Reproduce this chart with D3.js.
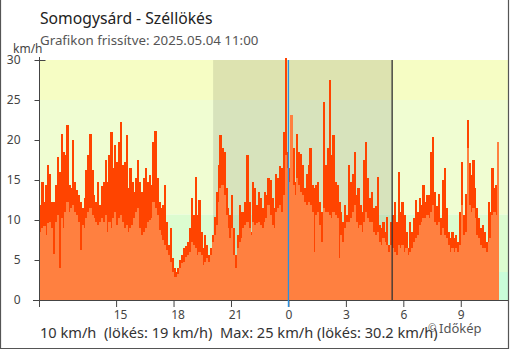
<!DOCTYPE html>
<html><head><meta charset="utf-8">
<script src="https://cdn.jsdelivr.net/npm/d3@7"></script>
<style>
html,body{margin:0;padding:0;background:#fff;}
svg{display:block;font-family:"Noto Sans",sans-serif;}
</style></head><body>
<svg id="chart" width="510" height="350"></svg>
<script>
const titleText = "Somogysárd - Széllökés";
const subtitleText = "Grafikon frissítve: 2025.05.04 11:00";
const summaryText = "10 km/h  (lökés: 19 km/h)  Max: 25 km/h (lökés: 30.2 km/h)";
const creditText = "Időkép";
const unitLabel = "km/h";

const startTime = "2025-05-03T11:00:00Z";
const endTime = "2025-05-04T11:28:00Z";
const stepMinutes = 6;
const sunsetTime = "2025-05-03T20:04:00Z";
const sunriseTime = "2025-05-04T05:25:00Z";
const midnightTime = "2025-05-04T00:00:00Z";

const gustKmh = [
11.9,14.8,12.3,14.4,16.9,15.8,12.3,12.3,14.4,17.9,
16,20.75,18.5,18.1,21.9,14.4,14,20,14.8,13.75,
13.1,12.3,11.5,12.7,16.25,18.1,20.8,16.25,13.1,12.3,
14.8,11.9,14.2,14.8,17.5,14.8,18.1,21,16.5,19.4,
17.3,19.8,22.3,16.9,17.3,20.6,14,16.5,14.8,13.5,
15.2,17.5,14.8,13.5,15.2,16.5,14.8,15.6,14.4,19.8,
21.1,15.2,12.3,11.5,11.9,14.4,9.8,6.9,9,5.2,
4,3.5,4,5,5.6,6.5,6.7,7.3,9,12.7,
10.6,15.4,10.6,12.5,8.5,6.5,8.1,6.9,5.6,6.5,
8.1,10.4,13.5,16.9,20.6,19,18.5,14,11.5,10.6,
13.1,9,5.6,8.1,11.9,11,11,12.3,18.1,12.3,
8.5,14.8,14,11.9,13.5,12.7,11.5,13.5,13.1,15.2,
15,12.7,11.5,15.8,15.2,16.7,16.5,21,30.2,18.5,
16.5,23.1,19,14.8,20.75,18.5,18.3,16.9,14,15.8,
16.9,19,14.4,14,14.4,14.8,12.3,11,24.8,16.9,
19,27.5,18.1,20.6,14.8,14.4,12.3,11,9.8,11.9,
10.6,16.9,
14.8,15.8,18.5,13.1,14,11.9,11,17.5,19.8,15.2,
12.7,13.5,11.5,11.7,15.4,9.4,9,9.8,8.5,10.4,
6.9,9.8,10.6,12.3,9.8,16,11,12.3,10.6,8.5,
6.5,9.8,8.5,10.2,12.5,11,12.7,11.9,14.4,12.3,
13.1,
13.1,18.5,20.4,13.5,11.7,13.3,10.2,15,16.5,11.5,
8.5,7.7,8.5,7.7,8.1,7.3,11,17.3,10.6,13.3,
22.5,17.1,15.6,17.5,14,11.5,10.2,9,9.4,8.5,
7.3,12.3,11,16.5,14,14.4,19.8
];
const avgKmh = [
8.5,9,9.2,8.1,9.6,9.8,9,5.8,9.8,10.6,
4,10.2,9,11,12.3,11,11.5,11.9,11,10.6,
9.8,6.25,9.4,9,10.2,11,11.5,10.6,10.2,9.8,
9.4,9.8,10.2,9.8,10.6,8.5,9.8,9,10.2,11,
9.4,10.2,10.6,9.8,9,9.4,8.5,9,9.4,10.2,
11,11.5,9,8.1,8.5,9,9.8,10,10.2,12.3,
11.5,10.6,8.75,8.1,7.5,6.9,6.25,5.6,4.8,3.5,
2.9,2.9,3.3,4,4.6,4.8,5.4,5.6,6,7.3,
6.9,6.5,5.6,6,5.6,4.4,4.8,5.2,4.8,5.6,
7.3,8.1,9.4,12.3,14,14.4,13.1,10.6,9,7.7,
9,5.6,4,6.5,7.3,7.7,9,9.4,9.8,9,
8.1,9.8,9.4,9.6,9.8,9.4,9,9.8,10.2,11.9,
10.6,9.4,9,11,11.5,11.9,11,13.1,18.1,16.5,
14.8,23.1,14.4,13.1,15.2,14.4,13.5,13.1,12.3,11.9,
12.3,11.9,11,6,10.6,11,9.4,7.3,11.5,11,
11,10.6,10.2,11,10.6,10.2,5.2,8.1,7.3,9,
9.8,9.8,
10.2,11,11.9,9.8,9,9.4,8.5,9.8,11,10.2,
9.8,9.8,8.5,8.1,8.5,7.3,6.9,7.7,7.3,6.9,
6,6.9,6.5,6,5.6,6.9,6.5,6.9,6,6.5,
5.6,6,6.5,7.3,7.7,8.1,9.4,9.8,10.2,10.2,
10.6,
10.2,11,11.9,9.8,9.4,9.8,8.1,9,8.1,7.7,
6.9,6,6.5,6,6.5,6,6.9,11.9,8.1,8.5,
19,11.9,11,11.5,10.2,8.1,7.7,6.9,6.5,6.5,
6,7.3,7.7,10.6,11,10.6,19.8
];

const xTickTimes = ["2025-05-03T15:00:00Z","2025-05-03T18:00:00Z","2025-05-03T21:00:00Z",
  "2025-05-04T00:00:00Z","2025-05-04T03:00:00Z","2025-05-04T06:00:00Z","2025-05-04T09:00:00Z"];
const xTickLabels = ["15","18","21","0","3","6","9"];
const yTicks = [0,5,10,15,20,25,30];
const bandLimits = [0,3.5,10.7,25,30];

// styles
const bandColors = ["#c9fcd9","#dcfcd0","#f0fdd2","#f6fdc4"];
const gustColor = "#ff4400";
const avgColor = "#ff8040";
const axisColor = "#444";

const svg = d3.select("#chart");
const L = 39.5, R = 508, T = 60, B = 300;

const x = d3.scaleUtc().domain([new Date(startTime), new Date(endTime)]).range([L, R]);
const y = d3.scaleLinear().domain([0, 30]).range([B, T]);

// bands
const bands = d3.pairs(bandLimits).map((p, i) => ({lo: p[0], hi: p[1], c: bandColors[i]}));
svg.append("g").selectAll("rect").data(bands).join("rect")
  .attr("x", L).attr("width", R - L)
  .attr("y", d => y(d.hi)).attr("height", d => y(d.lo) - y(d.hi))
  .attr("fill", d => d.c);

// night shading
svg.append("rect")
  .attr("x", x(new Date(sunsetTime))).attr("y", T)
  .attr("width", x(new Date(sunriseTime)) - x(new Date(sunsetTime)))
  .attr("height", B - T).attr("fill", "#000").attr("fill-opacity", 0.1);

// data
const t0 = new Date(startTime).getTime();
const step = stepMinutes * 60000;
const data = gustKmh.map((g, i) => ({t0: new Date(t0 + i * step), t1: new Date(t0 + (i + 1) * step), g, a: avgKmh[i]}));

const gBars = svg.append("g").attr("shape-rendering", "crispEdges");
gBars.selectAll("rect.g").data(data).join("rect").attr("class", "g")
  .attr("x", d => x(d.t0)).attr("width", d => x(d.t1) - x(d.t0) + 0.4)
  .attr("y", d => y(d.g)).attr("height", d => y(0) - y(d.g))
  .attr("fill", gustColor);
gBars.selectAll("rect.a").data(data).join("rect").attr("class", "a")
  .attr("x", d => x(d.t0)).attr("width", d => x(d.t1) - x(d.t0) + 0.4)
  .attr("y", d => y(d.a)).attr("height", d => y(0) - y(d.a))
  .attr("fill", avgColor);

// sunrise line
svg.append("line")
  .attr("x1", x(new Date(sunriseTime))).attr("x2", x(new Date(sunriseTime)))
  .attr("y1", T).attr("y2", B).attr("stroke", "#333").attr("stroke-width", 1.3);

// y axis
const yAxis = svg.append("g").attr("transform", `translate(${L},0)`)
  .call(d3.axisLeft(y).tickValues(yTicks).tickSize(5).tickPadding(14).tickFormat(d3.format("d")));
yAxis.select(".domain").remove();
yAxis.selectAll("line").attr("stroke", axisColor);
yAxis.selectAll("text").attr("fill", axisColor).style("font-size", "12px").style("font-family", "Noto Sans");
svg.append("line").attr("x1", L).attr("x2", L).attr("y1", 57).attr("y2", 307).attr("stroke", axisColor);
svg.append("line").attr("x1", L - 2).attr("x2", L + 6).attr("y1", T + 0.5).attr("y2", T + 0.5).attr("stroke", axisColor);

// x axis
const xAxis = svg.append("g").attr("transform", `translate(0,${B})`)
  .call(d3.axisBottom(x).tickValues(xTickTimes.map(s => new Date(s))).tickSize(7).tickPadding(3)
    .tickFormat((d, i) => xTickLabels[i]));
xAxis.select(".domain").remove();
xAxis.selectAll("line").attr("stroke", axisColor);
xAxis.selectAll("text").attr("fill", axisColor).style("font-size", "12px").style("font-family", "Noto Sans")
  .attr("dx", (d, i) => xTickLabels[i].length > 1 ? 4 : 0);
svg.append("line").attr("x1", 33).attr("x2", R).attr("y1", B + 0.5).attr("y2", B + 0.5).attr("stroke", axisColor);

// midnight line
svg.append("line")
  .attr("x1", x(new Date(midnightTime))).attr("x2", x(new Date(midnightTime)))
  .attr("y1", T).attr("y2", B + 7).attr("stroke", "#2a8fe0").attr("stroke-width", 1.3);

// frame
svg.append("path").attr("d", `M0.5,0V348.5H508.5V0`).attr("fill", "none").attr("stroke", "#555").attr("stroke-width", 1.2);

// texts
svg.append("text").attr("x", 40).attr("y", 24).text(titleText)
  .style("font-size", "15.7px").attr("fill", "#222");
svg.append("text").attr("x", 40).attr("y", 45).text(subtitleText)
  .style("font-size", "13.3px").attr("fill", "#555");
svg.append("text").attr("x", 13).attr("y", 53).text(unitLabel)
  .style("font-size", "12px").attr("fill", axisColor);
svg.append("text").attr("x", 40).attr("y", 338).text(summaryText)
  .style("font-size", "14.6px").style("white-space", "pre").attr("fill", "#333");
svg.append("text").attr("x", 428).attr("y", 332).text("©")
  .style("font-size", "10px").attr("fill", "#555");
svg.append("text").attr("x", 439).attr("y", 333).text(creditText)
  .style("font-size", "13px").attr("fill", "#555");
</script>
</body></html>
